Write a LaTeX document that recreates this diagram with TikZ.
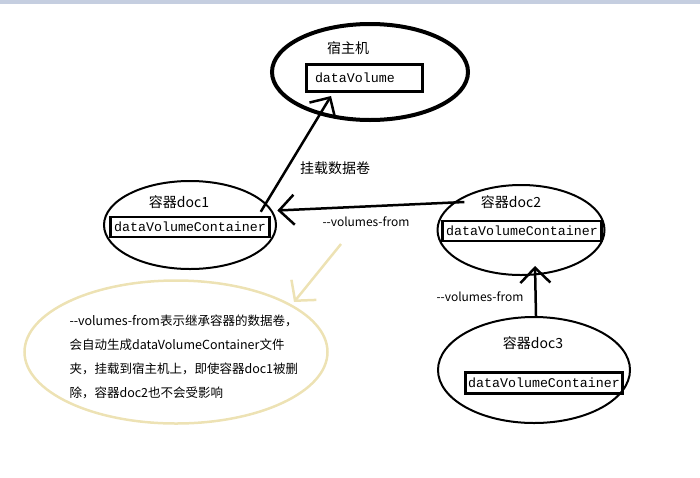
\documentclass[tikz,border=0pt]{standalone}
\usepackage{fontspec}
\setmainfont{Noto Sans CJK SC}
\setmonofont{Liberation Mono}
\usetikzlibrary{shapes.geometric,arrows.meta}
\definecolor{topbar}{HTML}{C5CEE0}
\definecolor{notebeige}{HTML}{EDE2B4}

\begin{document}
\begin{tikzpicture}[
  x=1pt,y=-1pt,
  ring/.style={draw,ellipse,line width=2pt,inner sep=0pt},
  vol/.style={draw,line width=2.5pt,inner sep=2pt,
    font=\ttfamily\fontsize{13.3}{15}\selectfont},
  lbl/.style={font=\fontsize{14}{16}\selectfont},
  small/.style={font=\fontsize{12}{14}\selectfont},
  mount/.style={line width=2.5pt,-{Straight Barb[length=15pt,width=30pt]}}
]
  \useasboundingbox (0,0) rectangle (700,477);
  \fill[topbar] (0,0) rectangle (700,4);

  \node[ring,line width=4pt,minimum width=196pt,minimum height=96pt] (host) at (370,72) {};
  \node[lbl] (hostlbl) at (348,48) {宿主机};
  \node[vol,line width=3pt,text width=98pt,align=left,inner xsep=9pt,
    minimum height=27pt] (hostbox) at (364,78) {dataVolume};

  \node[ring,minimum width=172pt,minimum height=88pt] (doc1) at (190,225) {};
  \node[lbl] (lbl1) at (179,202) {容器doc1};
  \node[vol,minimum width=159pt,minimum height=20pt] (box1) at (190,227) {dataVolumeContainer};

  \node[ring,minimum width=167pt,minimum height=90pt] (doc2) at (521,230) {};
  \node[lbl] (lbl2) at (511,202) {容器doc2};
  \node[vol,minimum width=159pt,minimum height=20pt] (box2) at (522,231) {dataVolumeContainer};

  \node[ring,minimum width=192pt,minimum height=106pt] (doc3) at (534,370) {};
  \node[lbl] (lbl3) at (533,343) {容器doc3};
  \node[vol,minimum width=157pt,minimum height=21pt] (box3) at (544,383) {dataVolumeContainer};

  \draw[mount] ([xshift=-10pt,yshift=4pt]box1.north east) -- ([xshift=-33pt,yshift=-3pt]hostbox.south);
  \node[lbl] (mountlbl) at (335,168) {挂载数据卷};

  \draw[mount] ([xshift=-13pt]lbl2.west) -- ([xshift=5pt]doc1.10);
  \node[small] (from1) at (366,222) {-{}-volumes-from};

  \draw[mount] ([xshift=2pt]doc3.north) -- ([xshift=14pt,yshift=10pt]doc2.south);
  \node[small] (from2) at (480,297) {-{}-volumes-from};

  % note
  \node[draw=notebeige,ellipse,line width=2.5pt,minimum width=303pt,minimum height=143pt] (note) at (176,352) {};
  \node[anchor=west,align=left,font=\fontsize{12.5}{24}\selectfont] (notetext) at (66,357)
    {-{}-volumes-from表示继承容器的数据卷，\\
     会自动生成dataVolumeContainer文件\\
     夹，挂载到宿主机上，即使容器doc1被删\\
     除，容器doc2也不会受影响};
  \coordinate (notefrom) at (341,244);
  \coordinate (noteto) at (294,302);
  \draw[notebeige,line width=2.5pt,-{Straight Barb[length=14pt,width=32pt]}] (notefrom) -- (noteto);
\end{tikzpicture}
\end{document}
